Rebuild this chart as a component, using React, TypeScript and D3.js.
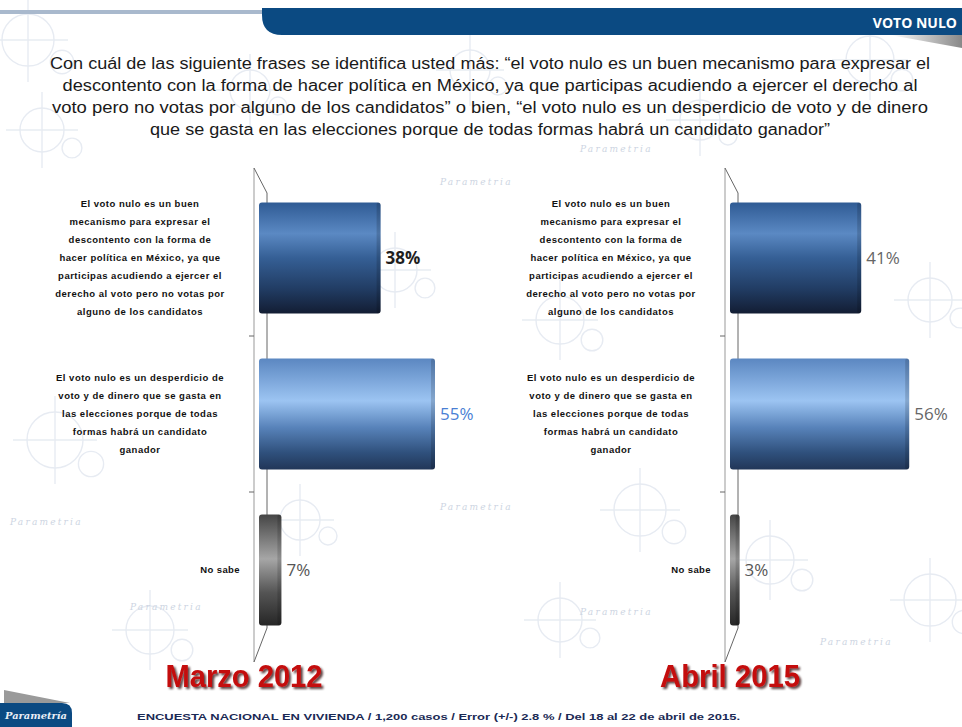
import React from "react";
import * as d3 from "d3";

const categories = ["buen mecanismo", "desperdicio", "No sabe"];
const categoryLines = [
  [
    "El voto nulo es un buen",
    "mecanismo para expresar el",
    "descontento con la forma de",
    "hacer política en México, ya que",
    "participas acudiendo a ejercer el",
    "derecho al voto pero no votas por",
    "alguno de los candidatos",
  ],
  [
    "El voto nulo es un desperdicio de",
    "voto y de dinero que se gasta en",
    "las elecciones porque de todas",
    "formas habrá un candidato",
    "ganador",
  ],
  ["No sabe"],
];
const marzo2012 = [38, 55, 7];
const abril2015 = [41, 56, 3];
const panelTitles = ["Marzo 2012", "Abril 2015"];
const titleLines = [
  "Con cuál de las siguiente frases se identifica  usted más: “el voto nulo  es un buen mecanismo para expresar el",
  "descontento  con la forma de hacer política  en México, ya que participas  acudiendo  a ejercer el derecho  al",
  "voto pero no votas por alguno de los candidatos”  o bien,  “el voto nulo es un desperdicio  de voto y de dinero",
  "que se gasta en las elecciones  porque de todas formas habrá un candidato  ganador”",
];
const footerText =
  "ENCUESTA  NACIONAL EN VIVIENDA  / 1,200 casos / Error (+/-)  2.8 % / Del 18 al 22 de abril de 2015.";

const W = 962;
const H = 727;
const NAVY = "#0b4a82";
const gradIds = ["barDark", "barLight", "barGray"];
const valueColors = [
  ["#1e1e1e", "#4a7fd4", "#555555"],
  ["#666666", "#666666", "#555555"],
];

// faint background motifs (decoration only)
const motifs: [number, number, number][] = [
  [28, 40, 26], [42, 130, 22], [55, 440, 28], [250, 90, 20], [470, 70, 20],
  [395, 270, 22], [560, 320, 24], [640, 510, 26], [770, 560, 24],
  [830, 420, 26], [870, 60, 24], [930, 300, 22], [930, 600, 26],
  [560, 620, 22], [300, 520, 20], [700, 120, 20], [150, 630, 24],
];
const marks: [number, number][] = [
  [580, 152], [440, 185], [10, 525], [440, 510], [580, 615], [820, 645], [130, 610], [330, 375],
];

function Panel({ values, axisX, valCols, title, titleCx, titleW }: any) {
  const y = d3
    .scaleBand<string>()
    .domain(categories)
    .range([180, 648])
    .paddingInner(0.288)
    .paddingOuter(0.144);
  const x = d3.scaleLinear().domain([0, 100]).range([0, 320]);
  const x0 = axisX + 5;
  const back = axisX + 13;
  const labelCx = axisX - 114;
  const gap = (y.step() - y.bandwidth()) / 2;
  const ticks = [y(categories[1])! - gap, y(categories[2])! - gap];
  return (
    <g>
      <line x1={axisX} x2={axisX} y1={168} y2={662} stroke="#aaa" strokeWidth={1.2} />
      <line x1={axisX} x2={back} y1={168} y2={193} stroke="#666" />
      <line x1={back} x2={back} y1={193} y2={628} stroke="#666" />
      <line x1={back} x2={axisX} y1={628} y2={662} stroke="#666" />
      {ticks.map((t, i) => (
        <line key={i} x1={axisX - 5} x2={axisX} y1={t} y2={t} stroke="#666" />
      ))}
      {values.map((v: number, i: number) => {
        const by = y(categories[i])!;
        const bh = y.bandwidth();
        const bw = x(v);
        return (
          <g key={i}>
            <rect x={x0} y={by} width={bw} height={bh} rx={3} fill={`url(#${gradIds[i]})`} />
            <rect x={x0 + bw - 4} y={by} width={4} height={bh} rx={2} fill="#000" opacity={0.15} />
            <text
              x={x0 + bw + 5}
              y={by + bh / 2}
              dy="0.35em"
              fontSize={17}
              fontFamily="'Open Sans', 'Liberation Sans', sans-serif"
              fontWeight={i === 0 && axisX < 400 ? 700 : 500}
              fill={valCols[i]}
            >
              {v}%
            </text>
            {categoryLines[i].length === 1 ? (
              <text
                x={axisX - 14}
                y={by + bh / 2}
                dy="0.35em"
                textAnchor="end"
                fontSize={9.5}
                fontWeight={700}
                letterSpacing={0.4}
                fontFamily="'Liberation Sans', Arial, sans-serif"
                fill="#111"
              >
                {categoryLines[i][0]}
              </text>
            ) : (
              categoryLines[i].map((l, j) => (
                <text
                  key={j}
                  x={labelCx}
                  y={by + bh / 2 + (j - (categoryLines[i].length - 1) / 2) * 18}
                  dy="0.35em"
                  textAnchor="middle"
                  fontSize={9.5}
                  fontWeight={700}
                  letterSpacing={0.5}
                  fontFamily="'Liberation Sans', Arial, sans-serif"
                  fill="#111"
                >
                  {l}
                </text>
              ))
            )}
          </g>
        );
      })}
      <text
        x={titleCx}
        y={687}
        textAnchor="middle"
        fontSize={31}
        fontWeight={700}
        textLength={titleW}
        lengthAdjust="spacingAndGlyphs"
        fontFamily="'Liberation Sans', Arial, sans-serif"
        fill="#c40d0d"
        filter="url(#titleShadow)"
      >
        {title}
      </text>
    </g>
  );
}

export default function App() {
  return (
    <svg width={W} height={H} style={{ position: "absolute", left: 0, top: 0, background: "#fff" }}>
      <defs>
        <linearGradient id="barDark" x1="0" y1="0" x2="0" y2="1">
          <stop offset="0" stopColor="#2f5b94" />
          <stop offset="0.28" stopColor="#5b89c3" />
          <stop offset="0.5" stopColor="#355f95" />
          <stop offset="0.78" stopColor="#213c63" />
          <stop offset="1" stopColor="#131d33" />
        </linearGradient>
        <linearGradient id="barLight" x1="0" y1="0" x2="0" y2="1">
          <stop offset="0" stopColor="#5b87c1" />
          <stop offset="0.38" stopColor="#9cc4f2" />
          <stop offset="0.62" stopColor="#5883ba" />
          <stop offset="0.85" stopColor="#2f507c" />
          <stop offset="1" stopColor="#213658" />
        </linearGradient>
        <linearGradient id="barGray" x1="0" y1="0" x2="0" y2="1">
          <stop offset="0" stopColor="#454545" />
          <stop offset="0.4" stopColor="#a6a6a6" />
          <stop offset="0.7" stopColor="#555" />
          <stop offset="1" stopColor="#262626" />
        </linearGradient>
        <linearGradient id="shadow" x1="0" y1="0" x2="1" y2="0">
          <stop offset="0" stopColor="#fff" />
          <stop offset="1" stopColor="#888" />
        </linearGradient>
        <filter id="titleShadow" x="-10%" y="-20%" width="130%" height="150%">
          <feDropShadow dx="2" dy="2" stdDeviation="1.2" floodColor="#2a0505" floodOpacity="0.75" />
        </filter>
      </defs>
      <rect width={W} height={H} fill="#fff" />
      {/* watermark */}
      <g stroke="#dde3ed" strokeWidth={1.4} fill="none" opacity={0.7}>
        {motifs.map(([cx, cy, r], i) => (
          <g key={i}>
            <circle cx={cx} cy={cy} r={r} />
            <line x1={cx - r - 14} x2={cx + r + 14} y1={cy} y2={cy} />
            <line x1={cx} x2={cx} y1={cy - r - 16} y2={cy + r + 16} />
            <circle cx={cx + r + 8} cy={cy + r - 4} r={r * 0.45} />
          </g>
        ))}
      </g>
      <g fill="#cdd5e2" fontFamily="'DejaVu Serif', serif" fontStyle="italic" fontSize={9} letterSpacing={2.2}>
        {marks.map(([mx, my], i) => (
          <text key={i} x={mx} y={my}>Parametria</text>
        ))}
      </g>
      {/* header */}
      <rect x={0} y={10} width={270} height={4} fill="#a9b9cd" />
      <path d={`M262,8 H${W} V35 H282 Q262,35 262,15 Z`} fill={NAVY} />
      <path d={`M890,35 H${W} V48 Z`} fill="url(#shadow)" />
      <text
        x={957}
        y={28}
        textAnchor="end"
        fontSize={14}
        fontWeight={700}
        fontFamily="'Open Sans', 'Liberation Sans', sans-serif"
        fill="#fff"
      >
        VOTO NULO
      </text>
      {/* question */}
      <g fontFamily="'Liberation Sans', Arial, sans-serif" fontSize={16} fill="#1a1a1a" textAnchor="middle">
        {titleLines.map((l, i) => (
          <text
            key={i}
            x={490}
            y={69 + i * 22}
            textLength={[880, 855, 876, 680][i]}
            lengthAdjust="spacingAndGlyphs"
          >
            {l}
          </text>
        ))}
      </g>
      <Panel values={marzo2012} axisX={254} valCols={valueColors[0]} title={panelTitles[0]} titleCx={244} titleW={157} />
      <Panel values={abril2015} axisX={725} valCols={valueColors[1]} title={panelTitles[1]} titleCx={730} titleW={140} />
      {/* footer */}
      <path d="M4,690 L70,703 H4 Z" fill="#9a9a9a" />
      <path d="M0,703 H62 Q72,703 72,713 V727 H0 Z" fill={NAVY} />
      <text
        x={5}
        y={719}
        fontSize={10}
        fontWeight={700}
        fontStyle="italic"
        fontFamily="'DejaVu Serif', serif"
        fill="#e8eef6"
        textLength={62}
        lengthAdjust="spacingAndGlyphs"
      >
        Parametría
      </text>
      <text
        x={137}
        y={720}
        fontSize={9}
        fontWeight={700}
        fontFamily="'Liberation Sans', Arial, sans-serif"
        fill="#1b2a55"
        textLength={603}
        lengthAdjust="spacingAndGlyphs"
      >
        {footerText}
      </text>
    </svg>
  );
}
